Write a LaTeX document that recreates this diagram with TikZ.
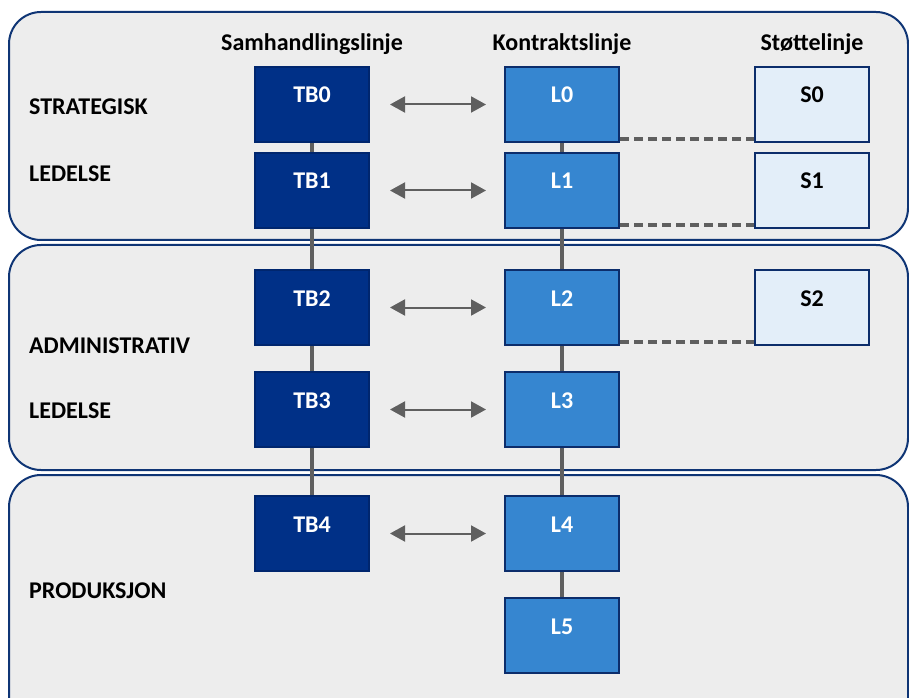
\documentclass[tikz,border=0pt]{standalone}
\usepackage{fontspec}
\setmainfont{Carlito}
\usepackage{xcolor}
\usepackage{tikz}
\usetikzlibrary{arrows.meta,positioning,calc}

\definecolor{bandfill}{HTML}{EDEDED}
\definecolor{bandline}{HTML}{0F3575}
\definecolor{tbfill}{HTML}{003087}
\definecolor{tbline}{HTML}{00266E}
\definecolor{lfill}{HTML}{3686D0}
\definecolor{sfill}{HTML}{E3EEF9}
\definecolor{boxline}{HTML}{0C2D6B}
\definecolor{connector}{HTML}{5F5F5F}

\tikzset{
    band/.style={draw=bandline, line width=2pt, fill=bandfill, rounded corners=32pt},
    unit/.style={rectangle, line width=2pt, minimum width=114pt, inner sep=0pt, text height=36pt, text depth=39pt, align=center, font=\bfseries\fontsize{24}{28}\selectfont},
    tbbox/.style={unit, draw=tbline, fill=tbfill, text=white},
    lbox/.style={unit, draw=boxline, fill=lfill, text=white},
    sbox/.style={unit, draw=boxline, fill=sfill, text=black},
    heading/.style={inner sep=0pt, text depth=5pt, font=\bfseries\fontsize{24}{28}\selectfont},
    level/.style={anchor=base west, inner sep=0pt, font=\bfseries\fontsize{24}{28}\selectfont},
    vline/.style={draw=connector, line width=4pt},
    dashline/.style={draw=connector, line width=4pt, dash pattern=on 9pt off 5pt},
    biarrow/.style={draw=connector, line width=2pt, {Triangle[length=15pt,width=16pt]}-{Triangle[length=15pt,width=16pt]}, shorten <=20pt, shorten >=18pt},
}

\begin{document}
\begin{tikzpicture}[x=1pt, y=1pt, node distance=9pt and 134pt]
    \clip (0,0) rectangle (909,697);

    % bands
    \draw[band] (9,457) rectangle (908,685);
    \draw[band] (9,227) rectangle (908,452);
    \draw[band] (9,-40) rectangle (908,222);

    % samhandlingslinje
    \node[tbbox] (tb0) at (312,592.5) {TB0};
    \node[tbbox, below=of tb0] (tb1) {TB1};
    \node[tbbox, below=40pt of tb1] (tb2) {TB2};
    \node[tbbox, below=25pt of tb2] (tb3) {TB3};
    \node[tbbox, below=47pt of tb3] (tb4) {TB4};

    % kontraktslinje
    \node[lbox, right=of tb0] (l0) {L0};
    \node[lbox, right=of tb1] (l1) {L1};
    \node[lbox, right=of tb2] (l2) {L2};
    \node[lbox, right=of tb3] (l3) {L3};
    \node[lbox, right=of tb4] (l4) {L4};
    \node[lbox, below=25pt of l4] (l5) {L5};

    % stoettelinje
    \node[sbox, right=of l0] (s0) {S0};
    \node[sbox, right=of l1] (s1) {S1};
    \node[sbox, right=of l2] (s2) {S2};

    \node[heading, above=10pt of tb0] (hsam) {Samhandlingslinje};
    \node[heading, above=10pt of l0] (hkon) {Kontraktslinje};
    \node[heading, above=10pt of s0] (hsto) {Støttelinje};

    \node[level] (strat) at (29,582) {STRATEGISK};
    \node[level] (led1) at (29,515) {LEDELSE};
    \node[level] (adm) at (29,344) {ADMINISTRATIV};
    \node[level] (led2) at (29,279) {LEDELSE};
    \node[level] (prod) at (29,99) {PRODUKSJON};

    \foreach \a/\b in {tb0/tb1,tb1/tb2,tb2/tb3,tb3/tb4,l0/l1,l1/l2,l2/l3,l3/l4,l4/l5}
        \draw[vline] (\a) -- (\b);
    \foreach \i in {0,...,4}
        \draw[biarrow] (tb\i) -- (l\i);
    \foreach \i in {0,1,2}
        \draw[dashline] ([yshift=4pt]l\i.south east) -- ([yshift=4pt]s\i.south west);
\end{tikzpicture}
\end{document}
